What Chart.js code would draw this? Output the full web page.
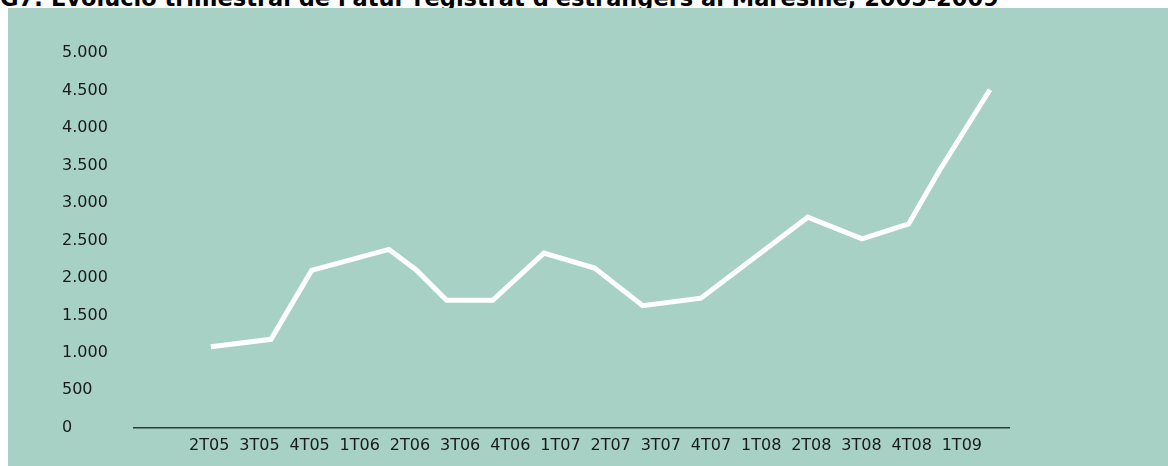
<!DOCTYPE html>
<html>
<head>
<meta charset="utf-8">
<script src="https://cdn.jsdelivr.net/npm/chart.js@4"></script>
<style>
  html, body { margin: 0; padding: 0; background: #fff; }
  body { width: 1168px; height: 466px; position: relative; overflow: hidden; }
  #title {
    position: absolute; left: 0; top: -13px;
    font: bold 22.5px "DejaVu Sans", Verdana, sans-serif; line-height: 22.5px;
    color: #000; white-space: nowrap;
  }
  #panel {
    position: absolute; left: 8px; top: 8px; width: 1160px; height: 458px;
    background: #a7d1c5;
  }
</style>
</head>
<body>
<div id="title">G7: Evolució trimestral de l'atur registrat d'estrangers al Maresme, 2005-2009</div>
<div id="panel"><canvas id="chart" width="1160" height="458"></canvas></div>
<script>
// quarter labels on the x axis
const quarters = ['2T05', '3T05', '4T05', '1T06', '2T06', '3T06', '4T06', '1T07',
  '2T07', '3T07', '4T07', '1T08', '2T08', '3T08', '4T08', '1T09'];

// where each point sits along the quarter axis
const quarterPos = [0.03, 1.23, 2.04, 3.58, 4.12, 4.73, 5.65, 6.67,
  7.68, 8.64, 9.80, 11.93, 13.01, 13.94, 14.56, 15.56];

// registered unemployed foreigners
const aturEstrangers = [1080, 1180, 2100, 2380, 2110, 1700, 1700, 2330,
  2130, 1630, 1730, 2810, 2520, 2720, 3440, 4510];

const yTicks = [0, 500, 1000, 1500, 2000, 2500, 3000, 3500, 4000, 4500, 5000];

function fmtThousands(v) {
  return String(v).replace(/\B(?=(\d{3})+(?!\d))/g, '.');
}

const tickFont = { family: '"DejaVu Sans", Verdana, sans-serif', size: 16 };

const ctx = document.getElementById('chart').getContext('2d');

new Chart(ctx, {
  type: 'line',
  data: {
    datasets: [{
      data: quarterPos.map((x, i) => ({ x: x, y: aturEstrangers[i] })),
      borderColor: '#ffffff',
      borderWidth: 5,
      pointRadius: 0,
      tension: 0,
      fill: false
    }]
  },
  options: {
    responsive: false,
    animation: false,
    layout: { padding: { left: 54, right: 159, top: 45, bottom: 3 } },
    plugins: {
      legend: { display: false },
      tooltip: { enabled: false }
    },
    scales: {
      x: {
        type: 'linear',
        min: -1.5,
        max: 15.94,
        afterBuildTicks: axis => {
          axis.ticks = quarters.map((_, i) => ({ value: i }));
        },
        ticks: {
          autoSkip: false,
          maxRotation: 0,
          padding: 8,
          color: '#1a1a1a',
          font: tickFont,
          callback: v => quarters[v]
        },
        grid: { display: false, drawTicks: false },
        border: { display: true, color: '#2e3b37', width: 1.5 }
      },
      y: {
        min: 0,
        max: 5000,
        afterBuildTicks: axis => {
          axis.ticks = yTicks.map(v => ({ value: v }));
        },
        afterFit: axis => { axis.width = 72; },
        ticks: {
          crossAlign: 'far',
          padding: 0,
          color: '#1a1a1a',
          font: tickFont,
          callback: v => fmtThousands(v)
        },
        grid: { display: false, drawTicks: false },
        border: { display: false }
      }
    }
  }
});
</script>
</body>
</html>
